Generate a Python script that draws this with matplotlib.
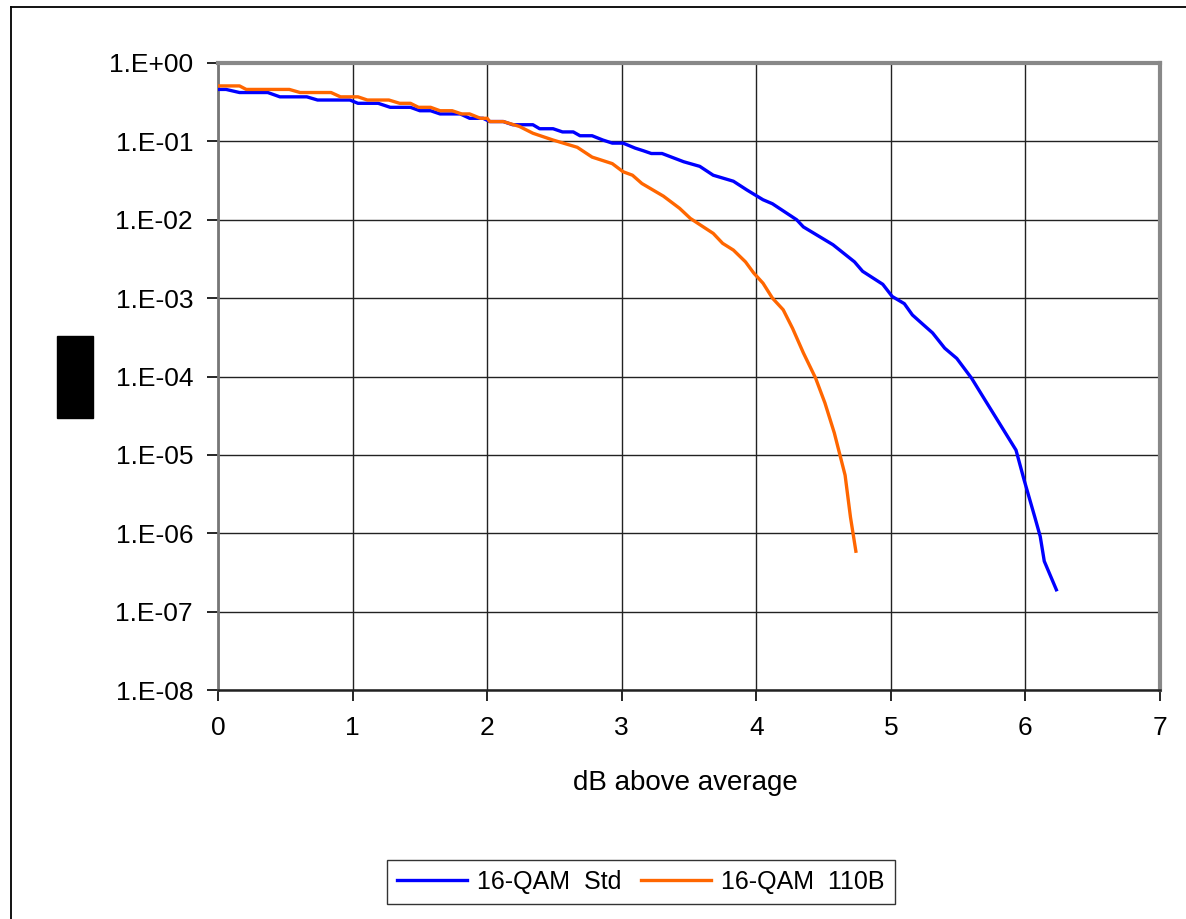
import matplotlib
matplotlib.use('Agg')
import matplotlib.pyplot as plt
from matplotlib.lines import Line2D
from matplotlib.patches import Rectangle

plt.rcParams['font.family'] = ['Liberation Sans', 'DejaVu Sans']

# 16-QAM Std (blue)
std_x = [0, 0.06, 0.16, 0.37, 0.46, 0.66, 0.74, 0.98, 1.04, 1.19, 1.28, 1.43,
         1.50, 1.58, 1.65, 1.80, 1.87, 1.97, 2.02, 2.12, 2.19, 2.34, 2.39, 2.49,
         2.56, 2.64, 2.69, 2.78, 2.86, 2.93, 3.01, 3.10, 3.16, 3.22, 3.30, 3.46,
         3.58, 3.68, 3.83, 3.93, 4.05, 4.12, 4.30, 4.35, 4.57, 4.73, 4.79, 4.94,
         5.01, 5.10, 5.16, 5.24, 5.31, 5.40, 5.49, 5.60, 5.70, 5.77, 5.93, 5.99,
         6.07, 6.11, 6.14, 6.23]
std_y = [0.46, 0.46, 0.42, 0.42, 0.37, 0.37, 0.337, 0.337, 0.306, 0.306, 0.272, 0.272,
         0.246, 0.246, 0.224, 0.224, 0.197, 0.197, 0.179, 0.179, 0.163, 0.163, 0.145, 0.145,
         0.132, 0.132, 0.118, 0.118, 0.104, 0.095, 0.095, 0.082, 0.076, 0.070, 0.070, 0.055,
         0.048, 0.037, 0.031, 0.024, 0.018, 0.016, 0.010, 0.0081, 0.0048, 0.0029, 0.0022, 0.0015,
         1.05e-3, 8.5e-4, 6.1e-4, 4.6e-4, 3.6e-4, 2.3e-4, 1.7e-4, 9.5e-5, 5.0e-5, 3.2e-5, 1.15e-5, 4.8e-6,
         1.6e-6, 9.1e-7, 4.4e-7, 1.9e-7]

# 16-QAM 110B (orange)
b110_x = [0, 0.16, 0.21, 0.53, 0.61, 0.84, 0.91, 1.04, 1.11, 1.27, 1.35, 1.43,
          1.49, 1.58, 1.65, 1.74, 1.81, 1.87, 1.95, 2.00, 2.02, 2.12, 2.24, 2.34,
          2.49, 2.67, 2.78, 2.93, 3.01, 3.08, 3.15, 3.31, 3.43, 3.51, 3.68, 3.75,
          3.83, 3.92, 3.98, 4.05, 4.12, 4.20, 4.27, 4.35, 4.44, 4.51, 4.58, 4.66,
          4.70, 4.74]
b110_y = [0.51, 0.51, 0.46, 0.46, 0.42, 0.42, 0.37, 0.37, 0.337, 0.337, 0.306, 0.306,
          0.272, 0.272, 0.246, 0.246, 0.224, 0.224, 0.197, 0.197, 0.179, 0.179, 0.155, 0.127,
          0.104, 0.084, 0.063, 0.052, 0.041, 0.037, 0.029, 0.020, 0.014, 0.0104, 0.0067, 0.005,
          0.0041, 0.0029, 0.0021, 0.00155, 0.001, 7.1e-4, 4.1e-4, 2.0e-4, 9.6e-5, 4.6e-5, 1.9e-5, 5.5e-6,
          1.6e-6, 5.9e-7]

y_ticks = [1e0, 1e-1, 1e-2, 1e-3, 1e-4, 1e-5, 1e-6, 1e-7, 1e-8]
y_labels = ['1.E+00', '1.E-01', '1.E-02', '1.E-03', '1.E-04',
            '1.E-05', '1.E-06', '1.E-07', '1.E-08']
x_ticks = [0, 1, 2, 3, 4, 5, 6, 7]

W, H = 1186, 919
fig = plt.figure(figsize=(W / 100, H / 100), dpi=100)
ax = fig.add_axes([218 / W, 1 - 690 / H, (1160 - 218) / W, (690 - 63) / H])

ax.semilogy(std_x, std_y, '-', color='#0000FF', lw=2.4, label='16-QAM  Std', zorder=3)
ax.semilogy(b110_x, b110_y, '-', color='#FF6600', lw=2.4, label='16-QAM  110B', zorder=3)

ax.set_xlim(0, 7)
ax.set_ylim(1e-8, 1)
ax.set_yticks(y_ticks)
ax.set_yticklabels(y_labels)
ax.minorticks_off()
ax.set_xticks(x_ticks)
ax.tick_params(axis='both', labelsize=19, length=8, width=1.2, color='black',
               direction='out')
ax.tick_params(axis='y', pad=10)
ax.tick_params(axis='x', pad=11)
ax.grid(True, color='#222222', lw=1.0)
ax.set_axisbelow(True)

for side in ('top', 'right'):
    ax.spines[side].set_color('#888888')
    ax.spines[side].set_linewidth(3)
ax.spines['left'].set_color('#777777')
ax.spines['left'].set_linewidth(2)
ax.spines['bottom'].set_color('#222222')
ax.spines['bottom'].set_linewidth(1.8)

fig.text(685 / W, 1 - 783 / H, 'dB above average', ha='center', va='center', fontsize=20)

# redacted y-axis label
fig.patches.append(Rectangle((57 / W, 1 - 418 / H), 36 / W, 82 / H,
                             transform=fig.transFigure, color='black', zorder=5))

# outer chart-area border (cropped on the right and bottom)
fig.add_artist(Line2D([11 / W, 1.01], [1 - 7 / H, 1 - 7 / H], color='black', lw=1.3,
                      transform=fig.transFigure))
fig.add_artist(Line2D([11 / W, 11 / W], [-0.01, 1 - 7 / H], color='black', lw=1.3,
                      transform=fig.transFigure))

leg = fig.legend(loc='center', bbox_to_anchor=(641 / W, 1 - 882 / H), ncol=2,
                 fontsize=18, frameon=True, fancybox=False, edgecolor='black',
                 handlelength=2.8, columnspacing=0.8, handletextpad=0.4,
                 borderpad=0.4)
leg.get_frame().set_linewidth(1.0)

fig.savefig('out.png', dpi=100)
